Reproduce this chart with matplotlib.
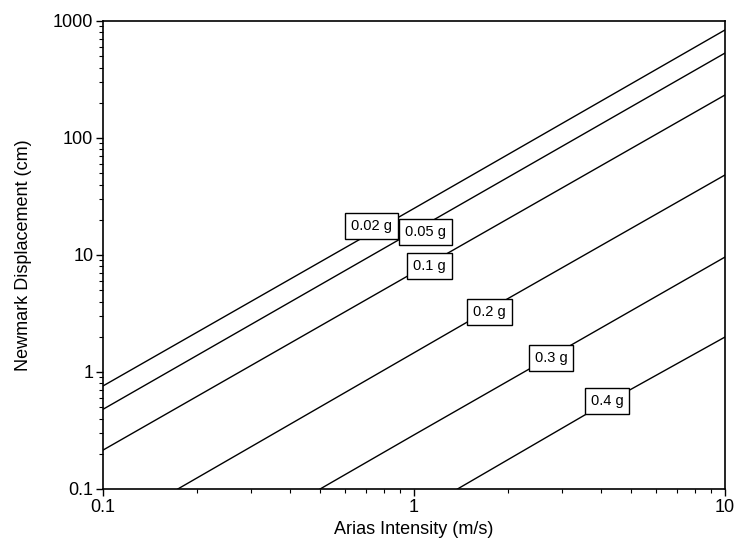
import numpy as np
import matplotlib.pyplot as plt
from matplotlib.ticker import FixedLocator, FixedFormatter, LogLocator, NullFormatter

plt.rcParams['font.family'] = ['Liberation Sans', 'DejaVu Sans']

# critical acceleration curves: Arias intensity (m/s) vs Newmark displacement (cm)
labels = ['0.02 g', '0.05 g', '0.1 g', '0.2 g', '0.3 g', '0.4 g']
ia_values = [
  [0.1, 1.0, 10.0],
  [0.1, 1.0, 10.0],
  [0.1, 1.0, 10.0],
  [0.174, 2.02, 10.0],
  [0.499, 1.0, 10.0],
  [1.38, 3.6, 10.0],
]
dn_values = [
  [0.76, 25.0, 838.0],
  [0.48, 16.0, 532.0],
  [0.215, 7.1, 233.0],
  [0.1, 4.29, 48.3],
  [0.1, 0.29, 9.6],
  [0.1, 0.44, 1.99],
]
# label box positions (data coords)
label_x = [0.73, 1.09, 1.12, 1.75, 2.76, 4.18]
label_y = [17.7, 15.7, 8.05, 3.26, 1.32, 0.565]

y_ticks = [0.1, 1, 10, 100, 1000]
y_ticklabels = ['0.1', '1', '10', '100', '1000']
x_ticks = [0.1, 1, 10]
x_ticklabels = ['0.1', '1', '10']


def main():
  fig = plt.figure(figsize=(7.38, 5.42), dpi=100)
  ax = fig.add_axes([0.1396, 0.0978, 0.8428, 0.8635])
  for xs, ys in zip(ia_values, dn_values):
    ax.plot(xs, ys, color='black', lw=1.0)
  for lab, lx, ly in zip(labels, label_x, label_y):
    ax.text(lx, ly, lab, fontsize=10.5, ha='center', va='center', zorder=5,
            bbox=dict(boxstyle='square,pad=0.4', fc='white', ec='black', lw=1.0))

  ax.set_xscale('log')
  ax.set_yscale('log')
  ax.set_xlim(0.1, 10)
  ax.set_ylim(0.1, 1000)
  ax.xaxis.set_major_locator(FixedLocator(x_ticks))
  ax.xaxis.set_major_formatter(FixedFormatter(x_ticklabels))
  ax.yaxis.set_major_locator(FixedLocator(y_ticks))
  ax.yaxis.set_major_formatter(FixedFormatter(y_ticklabels))
  ax.xaxis.set_minor_locator(LogLocator(base=10, subs=np.arange(2, 10)))
  ax.yaxis.set_minor_locator(LogLocator(base=10, subs=np.arange(2, 10)))
  ax.xaxis.set_minor_formatter(NullFormatter())
  ax.yaxis.set_minor_formatter(NullFormatter())
  ax.tick_params(which='major', direction='out', length=5, width=1, labelsize=13, pad=2)
  ax.tick_params(which='minor', direction='out', length=3, width=0.8)
  for sp in ax.spines.values():
    sp.set_linewidth(1.2)

  ax.set_xlabel('Arias Intensity (m/s)', fontsize=13, labelpad=4)
  ax.set_ylabel('Newmark Displacement (cm)', fontsize=13, labelpad=15)
  fig.savefig('out.png', dpi=100)

main()
